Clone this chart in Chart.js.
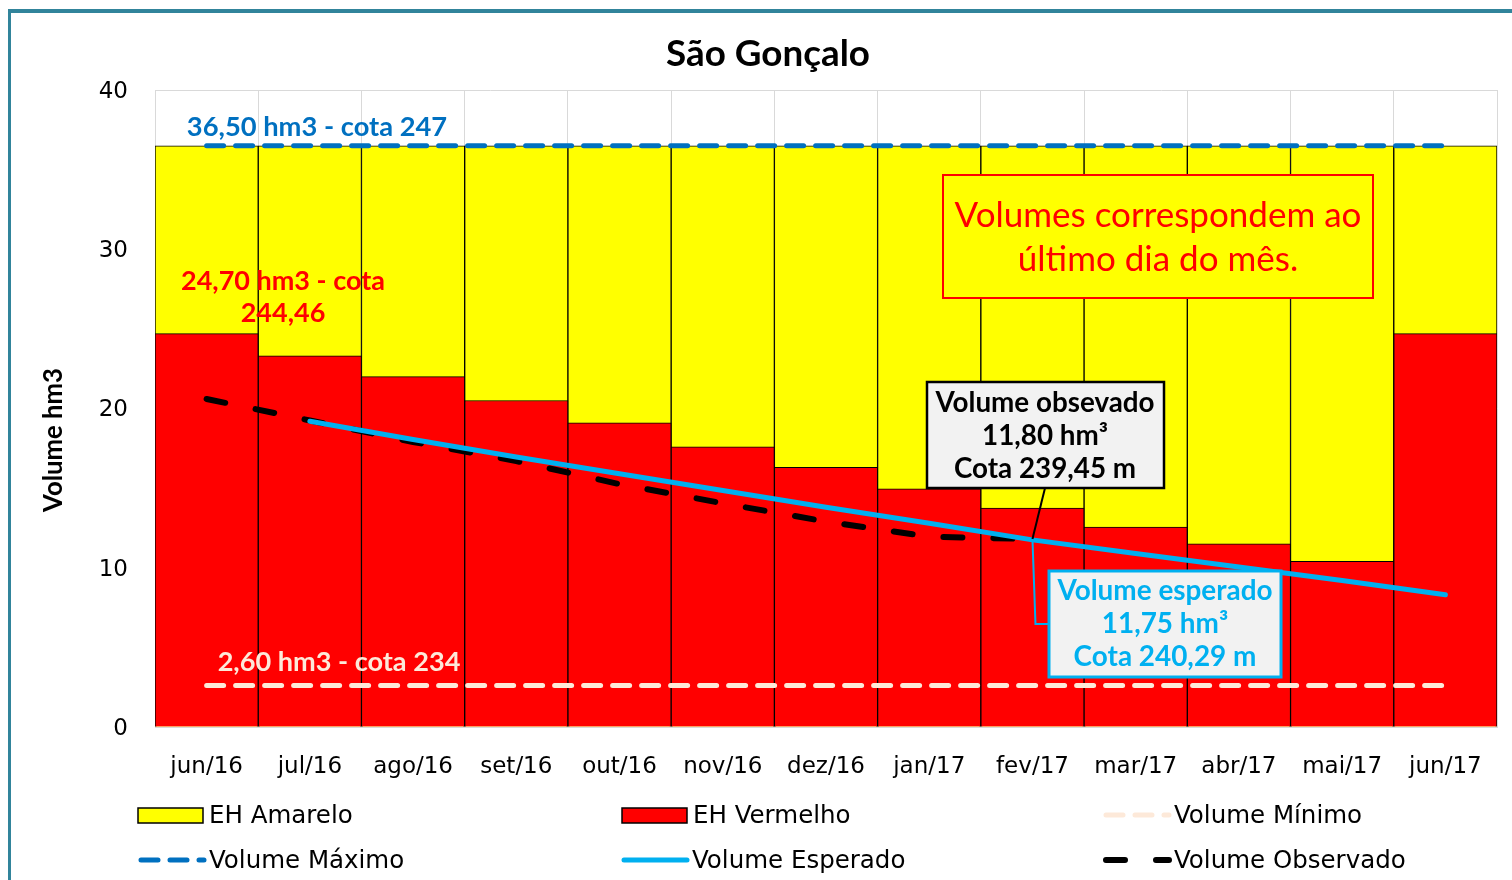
<!DOCTYPE html>
<html>
<head>
<meta charset="utf-8">
<script src="https://cdn.jsdelivr.net/npm/chart.js@4.4.0/dist/chart.umd.min.js"></script>
<style>
  html, body { margin: 0; padding: 0; background: #fff; }
  canvas { display: block; }
</style>
</head>
<body>
<canvas id="chart" width="1512" height="880"></canvas>
<script>
// data (hm3, last day of each month)
const months = ['jun/16', 'jul/16', 'ago/16', 'set/16', 'out/16', 'nov/16', 'dez/16', 'jan/17', 'fev/17', 'mar/17', 'abr/17', 'mai/17', 'jun/17'];
const ehAmarelo = [36.5, 36.5, 36.5, 36.5, 36.5, 36.5, 36.5, 36.5, 36.5, 36.5, 36.5, 36.5, 36.5];
const ehVermelho = [24.7, 23.3, 22.0, 20.5, 19.1, 17.6, 16.3, 14.95, 13.75, 12.55, 11.5, 10.4, 24.7];
const volMinimo = [2.6, 2.6, 2.6, 2.6, 2.6, 2.6, 2.6, 2.6, 2.6, 2.6, 2.6, 2.6, 2.6];
const volMaximo = [36.5, 36.5, 36.5, 36.5, 36.5, 36.5, 36.5, 36.5, 36.5, 36.5, 36.5, 36.5, 36.5];
const volEsperado = [null, 19.2, 18.05, 16.95, 15.9, 14.85, 13.8, 12.8, 11.75, 10.9, 10.05, 9.2, 8.3];
const volObservado = [20.6, 19.25, 17.9, 16.7, 15.25, 14.05, 12.9, 11.95, 11.8, null, null, null, null];
const yTicks = [0, 10, 20, 30, 40];

const CYAN = '#00b0f0';
const BLUE = '#0070c0';
const PEACH = '#fde9d9';

// pick a font size so the text spans the given width
function fitFont(ctx, text, weight, family, width) {
    ctx.font = weight + ' 100px ' + family;
    const size = 100 * width / ctx.measureText(text).width;
    return weight + ' ' + size.toFixed(1) + 'px ' + family;
}

function drawLines(ctx, lines, font, color, cx, ys) {
    ctx.font = font;
    ctx.fillStyle = color;
    ctx.textAlign = 'center';
    ctx.textBaseline = 'middle';
    lines.forEach((t, i) => ctx.fillText(t, cx, ys[i]));
}

const decorPlugin = {
    id: 'decor',
    beforeDraw(chart) {
        const ctx = chart.ctx;
        ctx.save();
        ctx.fillStyle = '#fff';
        ctx.fillRect(0, 0, chart.width, chart.height);
        // outer frame
        ctx.fillStyle = '#31849b';
        ctx.fillRect(8, 9, chart.width - 8, 4);
        ctx.fillRect(8, 9, 3, chart.height - 9);
        ctx.restore();
    },
    afterDatasetsDraw(chart) {
        const ctx = chart.ctx;
        const x = chart.scales.x, y = chart.scales.y;
        ctx.save();

        // level labels
        drawLines(ctx, ['36,50 hm3 - cota 247'], fitFont(ctx, '36,50 hm3 - cota 247', 'bold', 'Lato', 260), BLUE, 317, [127]);
        const redFont = fitFont(ctx, '24,70 hm3 - cota', 'bold', 'Lato', 204);
        drawLines(ctx, ['24,70 hm3 - cota', '244,46'], redFont, '#ff0000', 283, [281, 313]);
        drawLines(ctx, ['2,60 hm3 - cota 234'], fitFont(ctx, '2,60 hm3 - cota 234', 'bold', 'Lato', 243), PEACH, 339, [662]);

        // note box
        ctx.fillStyle = '#ffff00';
        ctx.fillRect(943, 175, 430, 123);
        ctx.strokeStyle = '#ff0000';
        ctx.lineWidth = 2;
        ctx.strokeRect(943, 175, 430, 123);
        const noteFont = fitFont(ctx, 'Volumes correspondem ao', 'normal', 'Lato', 407);
        drawLines(ctx, ['Volumes correspondem ao', 'último dia do mês.'], noteFont, '#ff0000', 1158, [216, 260]);

        // callouts anchored on the fev/17 point
        const ax = x.getPixelForValue(8);
        const ay = y.getPixelForValue(volObservado[8]);

        ctx.strokeStyle = '#000';
        ctx.lineWidth = 2;
        ctx.beginPath();
        ctx.moveTo(1045, 488);
        ctx.lineTo(ax, ay);
        ctx.stroke();

        ctx.strokeStyle = CYAN;
        ctx.lineWidth = 2;
        ctx.beginPath();
        ctx.moveTo(ax, ay);
        ctx.lineTo(ax + 3, 624);
        ctx.lineTo(1048, 624);
        ctx.stroke();

        ctx.fillStyle = '#f2f2f2';
        ctx.fillRect(927, 382, 237, 106);
        ctx.strokeStyle = '#000';
        ctx.lineWidth = 2.5;
        ctx.strokeRect(927, 382, 237, 106);
        const obsFont = fitFont(ctx, 'Volume obsevado', 'bold', 'Lato', 219);
        drawLines(ctx, ['Volume obsevado', '11,80 hm³', 'Cota 239,45 m'], obsFont, '#000', 1045, [403, 436, 469]);

        ctx.fillStyle = '#f2f2f2';
        ctx.fillRect(1049, 571, 232, 106);
        ctx.strokeStyle = CYAN;
        ctx.lineWidth = 3;
        ctx.strokeRect(1049, 571, 232, 106);
        const espFont = fitFont(ctx, 'Volume esperado', 'bold', 'Lato', 215);
        drawLines(ctx, ['Volume esperado', '11,75 hm³', 'Cota 240,29 m'], espFont, CYAN, 1165, [591, 624, 657]);

        ctx.restore();
    },
    afterDraw(chart) {
        const ctx = chart.ctx;
        const ds = chart.data.datasets;
        ctx.save();

        // title and y axis title
        drawLines(ctx, ['São Gonçalo'], fitFont(ctx, 'São Gonçalo', 'bold', 'Lato', 204), '#000', 768, [54]);
        ctx.translate(54, 440);
        ctx.rotate(-Math.PI / 2);
        drawLines(ctx, ['Volume hm3'], fitFont(ctx, 'Volume hm3', 'bold', 'Lato', 144), '#000', 0, [0]);
        ctx.setTransform(1, 0, 0, 1, 0, 0);

        // legend, 3 columns x 2 rows
        const items = [
            { ds: ds[5], x: 138, y: 815 }, { ds: ds[4], x: 622, y: 815 }, { ds: ds[1], x: 1103, y: 815 },
            { ds: ds[0], x: 138, y: 860 }, { ds: ds[2], x: 621, y: 860 }, { ds: ds[3], x: 1103, y: 860 }
        ];
        const legendFont = fitFont(ctx, 'Volume Observado', 'normal', 'DejaVu Sans', 232);
        items.forEach(it => {
            const d = it.ds;
            if (d.type === 'bar') {
                ctx.fillStyle = d.backgroundColor;
                ctx.fillRect(it.x, it.y - 7, 65, 15);
                ctx.strokeStyle = '#000';
                ctx.lineWidth = 1.5;
                ctx.strokeRect(it.x, it.y - 7, 65, 15);
            } else {
                ctx.strokeStyle = d.borderColor;
                ctx.lineWidth = d.borderWidth;
                ctx.lineCap = 'round';
                ctx.setLineDash(d.borderDash || []);
                ctx.beginPath();
                ctx.moveTo(it.x + 3, it.y);
                ctx.lineTo(it.x + 66, it.y);
                ctx.stroke();
                ctx.setLineDash([]);
            }
            ctx.font = legendFont;
            ctx.fillStyle = '#000';
            ctx.textAlign = 'left';
            ctx.textBaseline = 'middle';
            ctx.fillText(d.label, it.x + 71, it.y + 2);
        });
        ctx.restore();
    }
};

const ctx = document.getElementById('chart').getContext('2d');
const lineBase = { type: 'line', pointRadius: 0, borderCapStyle: 'round', borderJoinStyle: 'round', tension: 0, fill: false, order: 0 };

new Chart(ctx, {
    type: 'bar',
    data: {
        labels: months,
        datasets: [
            Object.assign({}, lineBase, { label: 'Volume Máximo', data: volMaximo, borderColor: BLUE, borderWidth: 5, borderDash: [17, 12] }),
            Object.assign({}, lineBase, { label: 'Volume Mínimo', data: volMinimo, borderColor: PEACH, borderWidth: 5, borderDash: [17, 12] }),
            Object.assign({}, lineBase, { label: 'Volume Esperado', data: volEsperado, borderColor: CYAN, borderWidth: 5 }),
            Object.assign({}, lineBase, { label: 'Volume Observado', data: volObservado, borderColor: '#000', borderWidth: 6, borderDash: [19, 31] }),
            { type: 'bar', label: 'EH Vermelho', data: ehVermelho, backgroundColor: '#ff0000', borderColor: '#000', borderWidth: 1, grouped: false, categoryPercentage: 1, barPercentage: 1, order: 1 },
            { type: 'bar', label: 'EH Amarelo', data: ehAmarelo, backgroundColor: '#ffff00', borderColor: '#000', borderWidth: 1, grouped: false, categoryPercentage: 1, barPercentage: 1, order: 2 }
        ]
    },
    options: {
        responsive: false,
        animation: false,
        layout: { padding: { top: 90, right: 15, left: 0, bottom: 0 } },
        plugins: {
            legend: { display: false },
            title: { display: false },
            tooltip: { enabled: false }
        },
        scales: {
            x: {
                grid: { color: '#d9d9d9', drawTicks: false, offset: true },
                border: { color: '#d9d9d9' },
                ticks: { font: { family: 'DejaVu Sans', size: 23 }, color: '#000', padding: 26, maxRotation: 0, autoSkip: false },
                afterFit: s => { s.height = 153; }
            },
            y: {
                min: 0,
                max: 40,
                afterBuildTicks: s => { s.ticks = yTicks.map(v => ({ value: v })); },
                grid: { color: '#d9d9d9', drawTicks: false },
                border: { display: false },
                ticks: { font: { family: 'DejaVu Sans', size: 23 }, color: '#000', padding: 27, labelOffset: 2 },
                afterFit: s => { s.width = 155; }
            }
        }
    },
    plugins: [decorPlugin]
});
</script>
</body>
</html>
